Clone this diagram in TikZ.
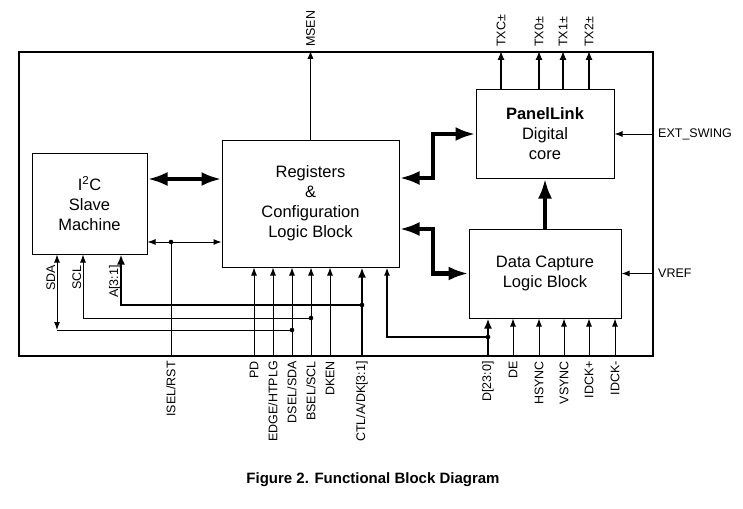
\documentclass[tikz,border=0pt]{standalone}
\usepackage{fontspec}
\setmainfont{Liberation Sans}
\usetikzlibrary{arrows.meta}
\def\thin{\draw[sig,-{Latex[length=8pt,width=6pt]}]}
\def\bus{\draw[line width=2.4pt,-{Latex[length=10pt,width=8pt]}]}
\def\fat{\draw[line width=4.5pt,{Latex[length=20pt,width=14pt]}-{Latex[length=20pt,width=14pt]}]}
\def\jdot#1{\fill (#1) circle (2.3pt);}
\tikzset{
  sig/.style={line width=1pt},
  blk/.style={draw,line width=1pt,align=center,inner sep=0pt,font=\fontsize{16.5}{20}\selectfont},
  pin/.style={inner sep=0pt,rotate=90,font=\fontsize{12.5}{14}\selectfont},
  side/.style={inner sep=0pt,anchor=west,font=\fontsize{12.5}{14}\selectfont}
}

\begin{document}
\begin{tikzpicture}[x=1pt,y=-1pt]
\useasboundingbox (0,0) rectangle (743,508);
\node[draw,line width=2.4pt,inner sep=0pt,minimum width=634pt,minimum height=304pt] (chip) at (336,204) {};

\node[blk,minimum width=115pt,minimum height=101pt] (i2c) at (89.5,203.5) {I\textsuperscript{2}C\\Slave\\Machine};
\node[blk,minimum width=177pt,minimum height=127pt] (reg) at (310.5,203.5) {Registers\\\&\\Configuration\\Logic Block};
\node[blk,minimum width=138pt,minimum height=88pt] (core) at (545,134) {\textbf{PanelLink}\\Digital\\core};
\node[blk,minimum width=152pt,minimum height=89pt] (cap) at (545,273.5) {Data Capture\\Logic Block};

% outputs at the top
\thin (reg.north) -- (reg.north |- chip.north);
\node[pin,anchor=west] (msen) at (310.5,47) {MSEN};
\foreach \x/\t in {501/TXC±,539/TX0±,563/TX1±,589/TX2±}{
  \draw[line width=2pt,-{Latex[length=9pt,width=7pt]}] (core.north -| \x,0) -- (chip.north -| \x,0);
  \node[pin,anchor=west] (tx\x) at (\x,47) {\t};
}

% inputs on the right
\thin (chip.east |- core.east) -- (core.east);
\node[side] (swing) at (658,134) {EXT\_SWING};
\thin (chip.east |- cap.east) -- (cap.east);
\node[side] (vref) at (658,273) {VREF};

% internal buses
\fat (i2c.east |- 0,179) -- (reg.west |- 0,179);
\fat (reg.east |- 0,178) -- (433,178) |- (core.west);
\fat (reg.east |- 0,229) -- (433,229) |- (cap.west);
\draw[line width=4.5pt,-{Latex[length=20pt,width=14pt]}] (cap.north) -- (core.south);
\draw[sig,{Latex[length=8pt,width=6pt]}-{Latex[length=8pt,width=6pt]}] (i2c.east |- 0,242) -- (reg.west |- 0,242);
\coordinate (jrst) at (171,242);
\draw[sig] (jrst) -- (jrst |- chip.south);
\jdot{jrst}
\node[pin,anchor=east] (rst) at (171,361) {ISEL/RST};

% inputs of the register block
\foreach \x/\t in {254/PD,273/{EDGE/HTPLG},292/{DSEL/SDA},311/{BSEL/SCL},330/DKEN}{
  \thin (chip.south -| \x,0) -- (reg.south -| \x,0);
  \node[pin,anchor=east] (p\x) at (\x,361) {\t};
}
\bus (chip.south -| 362,0) -- (reg.south -| 362,0);
\node[pin,anchor=east] (ctl) at (362,361) {CTL/A/DK[3:1]};

% I2C pins
\coordinate (jsda) at (292,330);
\coordinate (jscl) at (311,318);
\coordinate (jadr) at (362,305);
\coordinate (sda) at (57,330);
\draw[sig] (jsda) -- (sda);
\draw[sig,{Latex[length=8pt,width=6pt]}-{Latex[length=8pt,width=6pt]}] (sda) -- (sda |- i2c.south);
\thin (jscl) -| (i2c.south -| 83,0);
\bus (jadr) -| (i2c.south -| 121,0);
\jdot{jsda} \jdot{jscl} \jdot{jadr}
\node[pin,anchor=base east] (lsda) at (55,265) {SDA};
\node[pin,anchor=base east] (lscl) at (81,265) {SCL};
\node[pin,anchor=base east] (ladr) at (118,265) {A[3:1]};

% inputs of the capture block
\coordinate (jd) at (488,337);
\bus (chip.south -| jd) -- (cap.south -| jd);
\draw[line width=1.5pt,-{Latex[length=8pt,width=6pt]}] (jd) -| (reg.south -| 387,0);
\jdot{jd}
\node[pin,anchor=east] (dat) at (488,361) {D[23:0]};
\foreach \x/\t in {513/DE,539/HSYNC,564/VSYNC,589/IDCK+,615/IDCK-}{
  \thin (chip.south -| \x,0) -- (cap.south -| \x,0);
  \node[pin,anchor=east] (d\x) at (\x,361) {\t};
}

\node[anchor=base,font=\fontsize{15}{18}\bfseries] (cap2) at (373,483) {Figure 2. Functional Block Diagram};
\end{tikzpicture}
\end{document}
